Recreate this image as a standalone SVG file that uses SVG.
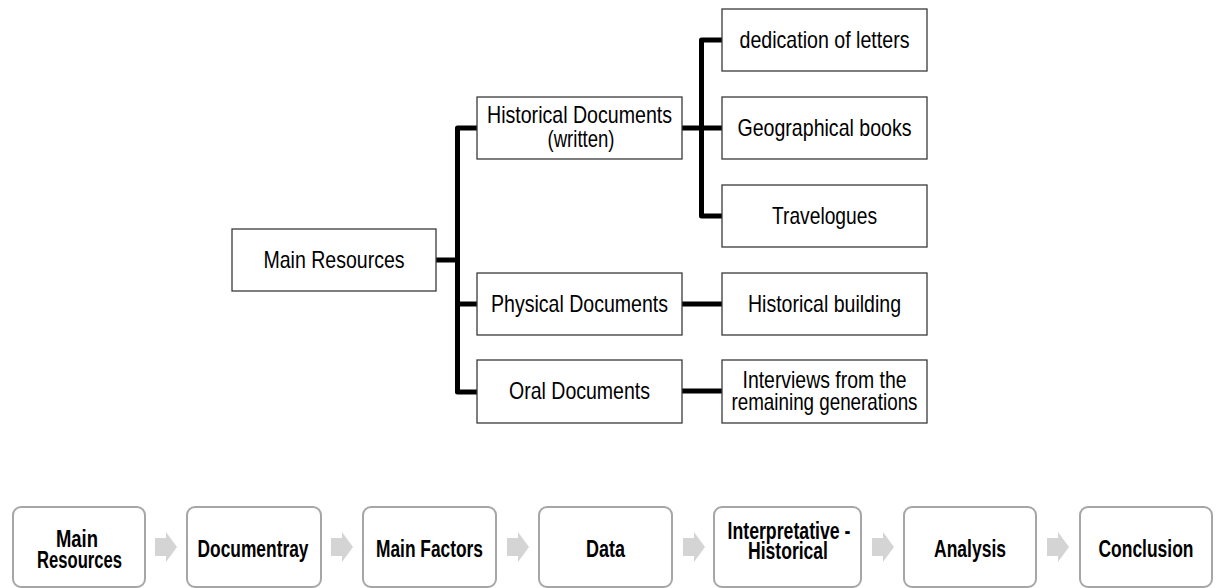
<svg xmlns="http://www.w3.org/2000/svg" width="1216" height="588" viewBox="0 0 1216 588">
<style>
.box{fill:#fff;stroke:#3a3a3a;stroke-width:1.3}
.step{fill:#fff;stroke:#a6a6a6;stroke-width:2}
.t{font-family:'Liberation Sans Narrow','Arial Narrow','Liberation Sans',sans-serif;font-size:24px;fill:#000;text-anchor:middle}
.b{font-family:'Liberation Sans Narrow','Arial Narrow','Liberation Sans',sans-serif;font-size:23px;font-weight:bold;fill:#000;text-anchor:middle}
.ln{fill:none;stroke:#000;stroke-width:5;stroke-linejoin:round}
.arr{fill:#d4d4d4}
</style>
<rect width="1216" height="588" fill="#fff"/>
<g id="connectors">
<path class="ln" d="M436,260H457.5M477,128H457.5V392H477M457.5,304H477"/>
<path class="ln" d="M682,128H722M722,40H701.5V216H722M682,304H722M682,391H722"/>
<polygon class="arr" points="155,538 166,538 166,532 177,547 166,562 166,556 155,556"/>
<polygon class="arr" points="331,538 342,538 342,532 353,547 342,562 342,556 331,556"/>
<polygon class="arr" points="507,538 518,538 518,532 529,547 518,562 518,556 507,556"/>
<polygon class="arr" points="683,538 694,538 694,532 705,547 694,562 694,556 683,556"/>
<polygon class="arr" points="872,538 883,538 883,532 894,547 883,562 883,556 872,556"/>
<polygon class="arr" points="1047,538 1058,538 1058,532 1069,547 1058,562 1058,556 1047,556"/>
</g>
<g id="main-resources"><rect class="box" x="232" y="229" width="204" height="62"/><text class="t" x="334" y="268" textLength="141" lengthAdjust="spacingAndGlyphs">Main Resources</text></g>
<g id="historical-documents"><rect class="box" x="477" y="97" width="205" height="62"/><text class="t" x="579.5" y="123" textLength="185" lengthAdjust="spacingAndGlyphs">Historical Documents</text><text class="t" x="581" y="147" textLength="67" lengthAdjust="spacingAndGlyphs">(written)</text></g>
<g id="physical-documents"><rect class="box" x="477" y="273" width="205" height="62"/><text class="t" x="579.5" y="312" textLength="177" lengthAdjust="spacingAndGlyphs">Physical Documents</text></g>
<g id="oral-documents"><rect class="box" x="477" y="360" width="205" height="63"/><text class="t" x="579.5" y="399" textLength="141" lengthAdjust="spacingAndGlyphs">Oral Documents</text></g>
<g id="dedication-of-letters"><rect class="box" x="722" y="9" width="205" height="62"/><text class="t" x="824.5" y="48" textLength="170" lengthAdjust="spacingAndGlyphs">dedication of letters</text></g>
<g id="geographical-books"><rect class="box" x="722" y="97" width="205" height="62"/><text class="t" x="824.5" y="136" textLength="174" lengthAdjust="spacingAndGlyphs">Geographical books</text></g>
<g id="travelogues"><rect class="box" x="722" y="185" width="205" height="62"/><text class="t" x="824.5" y="224" textLength="105" lengthAdjust="spacingAndGlyphs">Travelogues</text></g>
<g id="historical-building"><rect class="box" x="722" y="273" width="205" height="62"/><text class="t" x="824.5" y="312" textLength="153" lengthAdjust="spacingAndGlyphs">Historical building</text></g>
<g id="interviews"><rect class="box" x="722" y="360" width="205" height="63"/><text class="t" x="824.5" y="388" textLength="164" lengthAdjust="spacingAndGlyphs">Interviews from the</text><text class="t" x="824.5" y="410" textLength="186" lengthAdjust="spacingAndGlyphs">remaining generations</text></g>
<g id="step-main-resources"><rect class="step" x="13" y="507" width="132" height="80" rx="8"/><text class="b" x="77" y="547" textLength="42" lengthAdjust="spacingAndGlyphs">Main</text><text class="b" x="79.5" y="568" textLength="85" lengthAdjust="spacingAndGlyphs">Resources</text></g>
<g id="step-documentray"><rect class="step" x="187" y="507" width="134" height="80" rx="8"/><text class="b" x="253" y="557" textLength="111" lengthAdjust="spacingAndGlyphs">Documentray</text></g>
<g id="step-main-factors"><rect class="step" x="363" y="507" width="133" height="80" rx="8"/><text class="b" x="429.5" y="557" textLength="107" lengthAdjust="spacingAndGlyphs">Main Factors</text></g>
<g id="step-data"><rect class="step" x="539" y="507" width="133" height="80" rx="8"/><text class="b" x="605.5" y="557" textLength="39" lengthAdjust="spacingAndGlyphs">Data</text></g>
<g id="step-interpretative"><rect class="step" x="714" y="507" width="147" height="80" rx="8"/><text class="b" x="789" y="539" textLength="123" lengthAdjust="spacingAndGlyphs">Interpretative -</text><text class="b" x="788" y="559" textLength="80" lengthAdjust="spacingAndGlyphs">Historical</text></g>
<g id="step-analysis"><rect class="step" x="904" y="507" width="132" height="80" rx="8"/><text class="b" x="970" y="557" textLength="72" lengthAdjust="spacingAndGlyphs">Analysis</text></g>
<g id="step-conclusion"><rect class="step" x="1080" y="507" width="132" height="80" rx="8"/><text class="b" x="1146" y="557" textLength="95" lengthAdjust="spacingAndGlyphs">Conclusion</text></g>
</svg>
